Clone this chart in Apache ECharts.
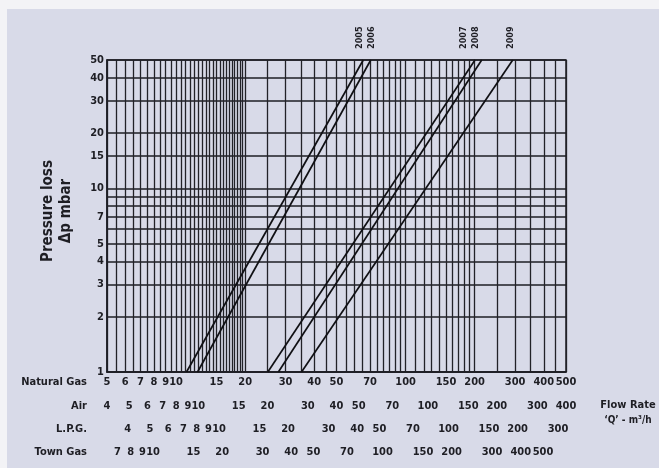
<!DOCTYPE html>
<html><head><meta charset="utf-8">
<script src="https://cdn.jsdelivr.net/npm/echarts@6/dist/echarts.min.js"></script>
<style>
html,body{margin:0;padding:0;background:#f3f3f6;}
#wrap{position:relative;width:659px;height:468px;overflow:hidden;}
#bg{position:absolute;left:7px;top:9px;right:0;bottom:0;background:#d8dae8;}
#c{position:absolute;left:0;top:0;width:659px;height:468px;}
</style>
</head><body>
<div id="wrap"><div id="bg"></div><div id="c"></div></div>
<script>
// ---- data ----
const seriesNames = ['2005', '2006', '2007', '2008', '2009'];
// Natural-gas flow (m3/h) where each line meets 1 mbar and 50 mbar
const flowAtLow  = [11.1, 12.4, 25.1, 27.9, 35.2];
const flowAtHigh = [65.4, 70.5, 200.7, 214.6, 293];
const pressureLow = 1;
const pressureHigh = 50;

const pressureTicks = [1, 2, 3, 4, 5, 7, 10, 15, 20, 30, 40, 50];
const pressureGrid  = [1, 2, 3, 4, 5, 6, 7, 8, 9, 10, 15, 20, 30, 40, 50];

const naturalGasTicks = [5, 6, 7, 8, 9, 10, 15, 20, 30, 40, 50, 70, 100, 150, 200, 300, 400, 500];
const airTicks        = [4, 5, 6, 7, 8, 9, 10, 15, 20, 30, 40, 50, 70, 100, 150, 200, 300, 400];
const lpgTicks        = [4, 5, 6, 7, 8, 9, 10, 15, 20, 30, 40, 50, 70, 100, 150, 200, 300];
const townGasTicks    = [7, 8, 9, 10, 15, 20, 30, 40, 50, 70, 100, 150, 200, 300, 400, 500];

const flowGrid = [5, 5.5, 6, 6.5, 7, 7.5, 8, 8.5, 9, 9.5, 10, 10.5, 11, 11.5, 12, 12.5, 13, 13.5, 14, 14.5,
  15, 15.5, 16, 16.5, 17, 17.5, 18, 18.5, 19, 19.5, 20, 25, 30, 35, 40, 45, 50, 55, 60, 65, 70, 75, 80, 85,
  90, 95, 100, 110, 120, 130, 140, 150, 160, 170, 180, 190, 200, 250, 300, 350, 400, 450, 500];

// ranges of the four flow scales (same physical width)
const naturalGasRange = [5, 500];
const airRange        = [4, 400];
const lpgRange        = [3.25, 325];
const townGasRange    = [6.3, 630];

// ---- styling ----
const FONT = "'DejaVu Sans Condensed', 'Liberation Sans Narrow', 'DejaVu Sans', sans-serif";
const INK = '#1e1e24';
const labelStyle = { fontFamily: FONT, fontWeight: 'bold', fontSize: 11, color: INK };
// horizontal nudge of each year label (screen px)
const labelShift = [-4, 1, -11, -6, -2];

function rowAxis(name, range, ticks, offset, isMain) {
  return {
    type: 'log', logBase: 10, gridIndex: 0, position: 'bottom', offset: offset,
    min: range[0], max: range[1],
    name: name, nameLocation: 'start', nameGap: 20,
    nameTextStyle: Object.assign({}, labelStyle, { align: 'right', verticalAlign: 'top', padding: [5, 0, 0, 0] }),
    axisLine: { show: isMain, lineStyle: { color: INK, width: 1.5 } },
    axisTick: isMain ? { show: false, customValues: flowGrid } : { show: false },
    axisLabel: Object.assign({}, labelStyle, { customValues: ticks, margin: 5, verticalAlign: 'top' }),
    splitLine: { show: isMain, lineStyle: { color: '#222228', width: 1.3 } },
    minorTick: { show: false }, minorSplitLine: { show: false }
  };
}

const series = seriesNames.map((n, i) => ({
  name: n, type: 'line', xAxisIndex: 0, yAxisIndex: 0,
  symbol: 'circle', symbolSize: 0.1, showSymbol: true, silent: true, animation: false,
  itemStyle: { color: '#101014' },
  lineStyle: { color: '#101014', width: 1.7 },
  label: { show: false },
  data: [
    [flowAtLow[i], pressureLow],
    { value: [flowAtHigh[i], pressureHigh],
      label: { show: true, position: 'top', distance: 11, rotate: 90, align: 'left', verticalAlign: 'middle',
               offset: [0, labelShift[i]], formatter: n, fontFamily: FONT, fontWeight: 'bold', fontSize: 9, color: INK } }
  ]
}));

const chart = echarts.init(document.getElementById('c'), null, { renderer: 'canvas' });
chart.setOption({
  backgroundColor: 'transparent',
  animation: false,
  grid: { left: 107, right: 93, top: 60, bottom: 96, show: true, borderColor: INK, borderWidth: 1.5, containLabel: false },
  xAxis: [
    rowAxis('Natural Gas', naturalGasRange, naturalGasTicks, 0, true),
    rowAxis('Air', airRange, airTicks, 24, false),
    rowAxis('L.P.G.', lpgRange, lpgTicks, 47, false),
    rowAxis('Town Gas', townGasRange, townGasTicks, 70, false)
  ],
  yAxis: {
    type: 'log', logBase: 10, min: pressureLow, max: pressureHigh,
    name: 'Pressure loss\nΔp mbar', nameLocation: 'middle', nameGap: 32, nameRotate: 90,
    nameTextStyle: { fontFamily: FONT, fontWeight: 'bold', fontSize: 15, color: INK, lineHeight: 18, padding: [0, 0, 0, 10] },
    axisLine: { show: true, lineStyle: { color: INK, width: 1.5 } },
    axisTick: { show: false, customValues: pressureGrid },
    axisLabel: Object.assign({}, labelStyle, { customValues: pressureTicks, margin: 3 }),
    splitLine: { show: true, lineStyle: { color: '#1e1e24', width: 1.7 } },
    minorTick: { show: false }, minorSplitLine: { show: false }
  },
  graphic: [
    { type: 'text', style: { text: 'Flow Rate', x: 628, y: 405, align: 'center', verticalAlign: 'middle',
        font: 'bold 11px ' + FONT, fill: INK } },
    { type: 'text', style: { text: '‘Q’ - m³/h', x: 628, y: 420, align: 'center', verticalAlign: 'middle',
        font: 'bold 10px ' + FONT, fill: INK } }
  ],
  series: series
});
</script>
</body></html>
